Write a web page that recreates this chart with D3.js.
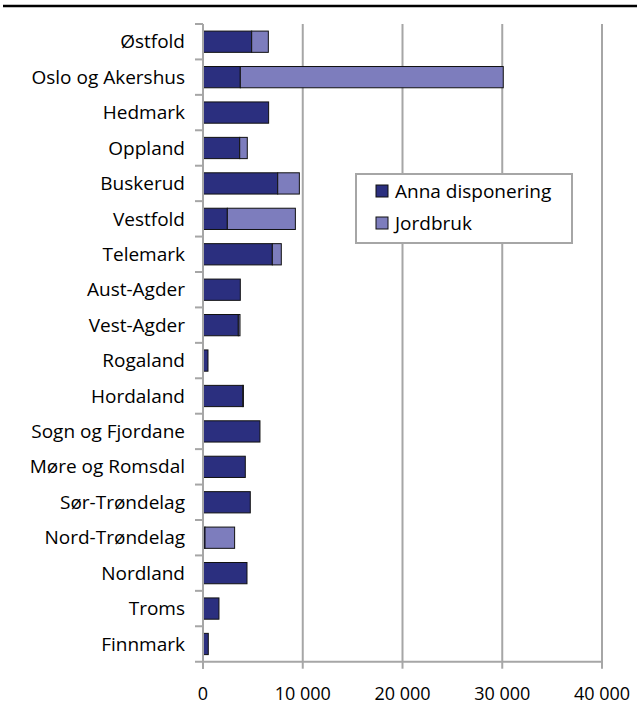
<!DOCTYPE html>
<html><head><meta charset="utf-8">
<script src="https://cdn.jsdelivr.net/npm/d3@7"></script>
<style>body{margin:0;background:#fff}svg{display:block}</style>
</head><body>
<script>
const categories = ["Østfold","Oslo og Akershus","Hedmark","Oppland","Buskerud","Vestfold","Telemark","Aust-Agder","Vest-Agder","Rogaland","Hordaland","Sogn og Fjordane","Møre og Romsdal","Sør-Trøndelag","Nord-Trøndelag","Nordland","Troms","Finnmark"];
const annaDisponering = [4880,3740,6580,3680,7490,2440,6950,3740,3540,500,4000,5710,4240,4740,200,4410,1600,530];
const jordbruk = [1670,26360,0,760,2170,6820,900,0,170,0,50,0,0,0,2970,0,0,0];
const seriesNames = ["Anna disponering","Jordbruk"];
const xTicks = [0,10000,20000,30000,40000];

(function(){
const W=637,H=704;
const svg=d3.select("body").append("svg").attr("width",W).attr("height",H);
const font="'Open Sans', sans-serif";
const colors=["#2b2f7f","#7d7dbd"];
const gridCol="#a6a6a6";

svg.append("line").attr("x1",3).attr("x2",637).attr("y1",6).attr("y2",6).attr("stroke","#000").attr("stroke-width",2.5);

const x=d3.scaleLinear().domain([0,40000]).range([203,602]);
const y=d3.scaleBand().domain(categories).range([24,661.7]).paddingInner(0.4).paddingOuter(0.2);
const plotTop=24,plotBottom=661.7;

svg.append("g").selectAll("line").data(xTicks.slice(1)).join("line")
  .attr("x1",d=>x(d)).attr("x2",d=>x(d)).attr("y1",plotTop).attr("y2",plotBottom)
  .attr("stroke",gridCol).attr("stroke-width",2);

const stackData=categories.map((c,i)=>({cat:c,a:annaDisponering[i],j:jordbruk[i]}));
const stack=d3.stack().keys(["a","j"])(stackData);
svg.append("g").selectAll("g").data(stack).join("g").attr("fill",(d,i)=>colors[i])
  .selectAll("rect").data(d=>d.filter(s=>s[1]-s[0]>0)).join("rect")
  .attr("x",d=>x(d[0])).attr("width",d=>x(d[1])-x(d[0]))
  .attr("y",d=>y(d.data.cat)).attr("height",y.bandwidth())
  .attr("stroke","#111").attr("stroke-width",1);

const step=y.step();
const yg=svg.append("g");
yg.append("line").attr("x1",203).attr("x2",203).attr("y1",plotTop).attr("y2",plotBottom+7).attr("stroke",gridCol).attr("stroke-width",2);
const bounds=d3.range(categories.length).map(i=>plotTop+i*step);
yg.selectAll("line.t").data(bounds).join("line").attr("class","t")
  .attr("x1",195).attr("x2",203).attr("y1",d=>d).attr("y2",d=>d).attr("stroke",gridCol).attr("stroke-width",2);
yg.selectAll("text").data(categories).join("text")
  .attr("x",185).attr("y",d=>y(d)+y.bandwidth()/2).attr("dy","0.35em")
  .attr("text-anchor","end").attr("font-family",font).attr("font-size",19).attr("fill","#000").text(d=>d);

const xg=svg.append("g");
xg.append("line").attr("x1",195).attr("x2",603).attr("y1",plotBottom).attr("y2",plotBottom).attr("stroke",gridCol).attr("stroke-width",2);
xg.selectAll("line.t").data(xTicks).join("line").attr("class","t")
  .attr("x1",d=>x(d)).attr("x2",d=>x(d)).attr("y1",plotBottom).attr("y2",plotBottom+7).attr("stroke",gridCol).attr("stroke-width",2);
xg.selectAll("text").data(xTicks).join("text")
  .attr("x",d=>x(d)).attr("y",700).attr("text-anchor","middle")
  .attr("font-family",font).attr("font-size",18).attr("fill","#000")
  .text(d=>d3.format(",")(d).replace(/,/g," "));

const lg=svg.append("g");
lg.append("rect").attr("x",356).attr("y",174).attr("width",216).attr("height",69).attr("fill","#fff").attr("stroke",gridCol).attr("stroke-width",2);
seriesNames.forEach((n,i)=>{
  const yy=185+i*32;
  lg.append("rect").attr("x",376).attr("y",yy).attr("width",12).attr("height",12).attr("fill",colors[i]).attr("stroke","#111").attr("stroke-width",1);
  lg.append("text").attr("x",395).attr("y",yy+13).attr("font-family",font).attr("font-size",19).attr("fill","#000").text(n);
});
})();
</script>
</body></html>
